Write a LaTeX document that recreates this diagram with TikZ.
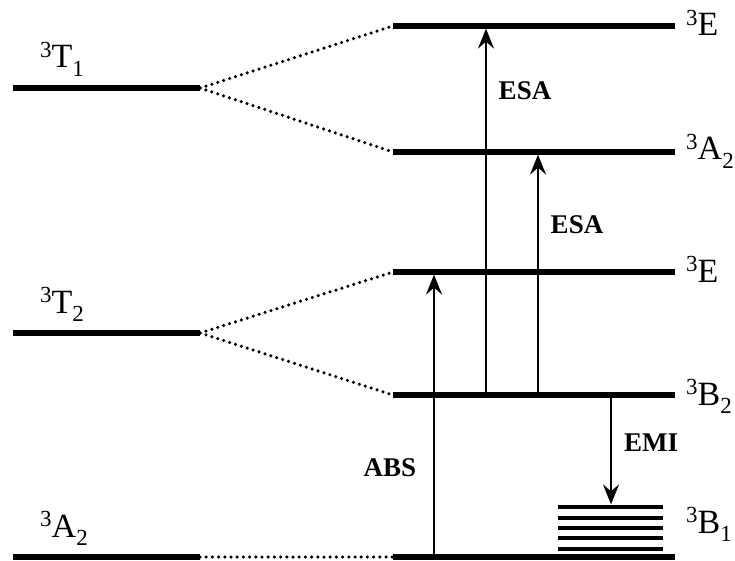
\documentclass[tikz,border=0pt]{standalone}
\usepackage{fontspec}
\setmainfont{Liberation Serif}
\usetikzlibrary{arrows.meta}
\newcommand\upthree{\raisebox{0.3em}{\fontsize{23}{23}\selectfont 3}}
\newcommand\dn[1]{\raisebox{-0.26em}{\fontsize{23}{23}\selectfont #1}}
\begin{document}
\begin{tikzpicture}[x=1pt,y=-1pt,
  level/.style={line width=5.2pt},
  sublevel/.style={line width=4pt},
  dots/.style={line width=3.5pt, line cap=round, dash pattern=on 0pt off 6.2pt},
  trans/.style={line width=2.2pt, -{Stealth[length=20pt,width=16pt,inset=7pt]}, shorten >=2.6pt},
  lab/.style={font=\fontsize{34}{40}\selectfont, anchor=base west, inner sep=0pt},
  tlab/.style={font=\fontsize{27}{30}\selectfont\bfseries, inner sep=0pt}]
\useasboundingbox (0,0) rectangle (735,561);
% left levels
\coordinate (T1L) at (13,88);  \coordinate (T1R) at (200,88);
\coordinate (T2L) at (13,333); \coordinate (T2R) at (200,333);
\coordinate (GAL) at (13,557); \coordinate (GAR) at (200,557);
% right levels
\coordinate (E1L) at (393,26);  \coordinate (E1R) at (675,26);
\coordinate (A2L) at (393,152); \coordinate (A2R) at (675,152);
\coordinate (E2L) at (393,272); \coordinate (E2R) at (675,272);
\coordinate (B2L) at (393,395); \coordinate (B2R) at (675,395);
\coordinate (GL) at (393,557);  \coordinate (GR) at (675,557);
\draw[level] (T1L) -- (T1R);
\draw[level] (T2L) -- (T2R);
\draw[level] (GAL) -- (GAR);
\draw[level] (E1L) -- (E1R);
\draw[level] (A2L) -- (A2R);
\draw[level] (E2L) -- (E2R);
\draw[level] (B2L) -- (B2R);
\draw[level] (GL) -- (GR);
% dotted correlations
\draw[dots] (T1R) -- (E1L);
\draw[dots] (T1R) -- (A2L);
\draw[dots] (T2R) -- (E2L);
\draw[dots] (T2R) -- (B2L);
\draw[dots] (GAR) -- (GL);
% B1 vibronic stack
\foreach \y [count=\i] in {507,517.5,528,538,548.5}{
  \coordinate (S\i L) at (558,\y); \coordinate (S\i R) at (663,\y);
  \draw[sublevel] (S\i L) -- (S\i R);
}
% transitions
\coordinate (absA) at (434,557); \coordinate (absB) at (434,272);
\coordinate (esaA) at (486,395); \coordinate (esaB) at (486,26);
\coordinate (esbA) at (538,395); \coordinate (esbB) at (538,152);
\coordinate (emiA) at (611,395); \coordinate (emiB) at (611,507);
\draw[trans] (absA) -- (absB);
\draw[trans] (esaA) -- (esaB);
\draw[trans] (esbA) -- (esbB);
\draw[trans] (emiA) -- (emiB);
\node[tlab] (lesa) at (525,91) {ESA};
\node[tlab] (lesb) at (577,225) {ESA};
\node[tlab] (labs) at (390,468) {ABS};
\node[tlab] (lemi) at (651,443) {EMI};
% level labels
\node[lab] (nT1) at (40,68) {\upthree T\dn{1}};
\node[lab] (nT2) at (40,313) {\upthree T\dn{2}};
\node[lab] (nA2) at (40,537) {\upthree A\dn{2}};
\node[lab] (nE1) at (686,36) {\upthree E};
\node[lab] (nA2u) at (686,160) {\upthree A\dn{2}};
\node[lab] (nE2) at (686,282) {\upthree E};
\node[lab] (nB2) at (686,405) {\upthree B\dn{2}};
\node[lab] (nB1) at (686,533) {\upthree B\dn{1}};
\end{tikzpicture}
\end{document}
